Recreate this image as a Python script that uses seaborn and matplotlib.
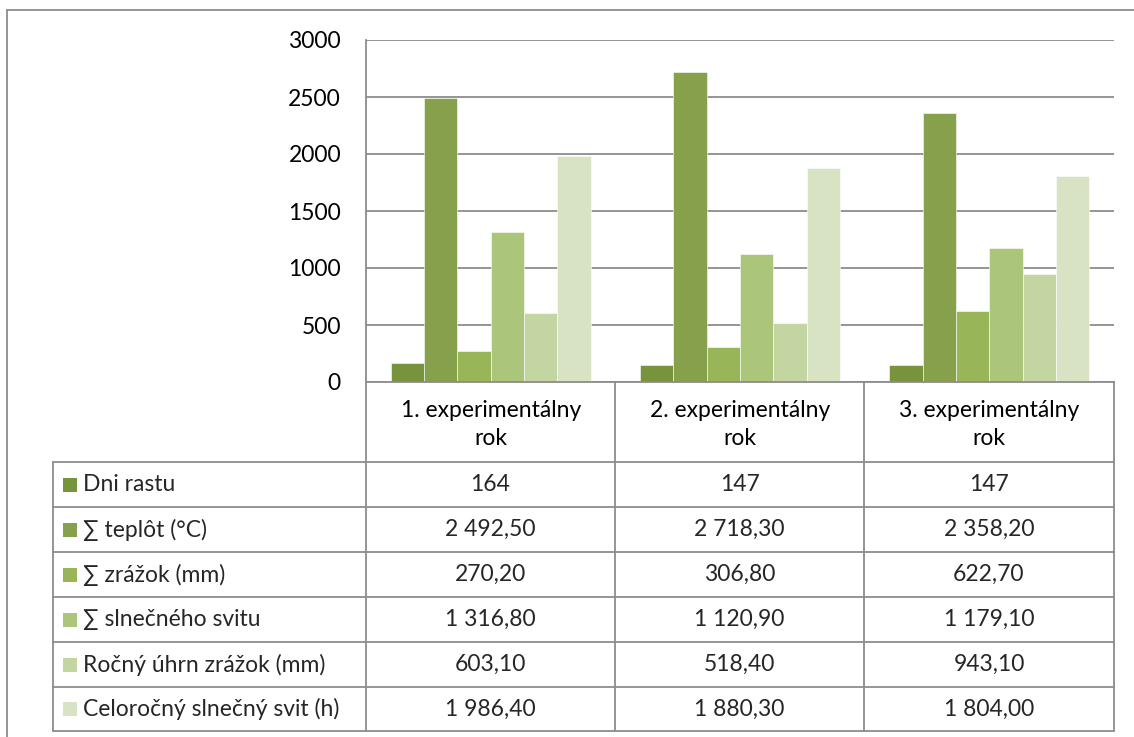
import matplotlib
matplotlib.use("Agg")
import matplotlib.pyplot as plt
from matplotlib.lines import Line2D
from matplotlib.patches import Rectangle
import pandas as pd
import seaborn as sns

# --- data -------------------------------------------------------------
years = ["1. experimentálny\nrok", "2. experimentálny\nrok", "3. experimentálny\nrok"]
series = [
    "Dni rastu",
    "∑ teplôt (°C)",
    "∑ zrážok (mm)",
    "∑ slnečného svitu",
    "Ročný úhrn zrážok (mm)",
    "Celoročný slnečný svit (h)",
]
dni_rastu = [164, 147, 147]
suma_teplot = [2492.50, 2718.30, 2358.20]
suma_zrazok = [270.20, 306.80, 622.70]
suma_svitu = [1316.80, 1120.90, 1179.10]
rocny_uhrn_zrazok = [603.10, 518.40, 943.10]
celorocny_svit = [1986.40, 1880.30, 1804.00]
y_ticks = [0, 500, 1000, 1500, 2000, 2500, 3000]

values = [dni_rastu, suma_teplot, suma_zrazok, suma_svitu, rocny_uhrn_zrazok, celorocny_svit]
colors = ["#77933C", "#86A04C", "#98B557", "#ABC57A", "#C3D5A1", "#D7E3C2"]

df = pd.DataFrame(
    [(y, s, v[i]) for s, v in zip(series, values) for i, y in enumerate(years)],
    columns=["rok", "ukazovateľ", "hodnota"],
)

# --- figure ------------------------------------------------------------
W, H = 1134, 737
FS = 16.5
sns.set_theme(style="white")
plt.rcParams["font.family"] = ["Lato", "DejaVu Sans"]
fig = plt.figure(figsize=(W / 100, H / 100), dpi=100)

def fx(px):
    return px / W

def fy(py):
    return 1 - py / H

GRID = "#8C8C8C"
left, right, top, base = 366, 1114, 40, 382
ax = fig.add_axes([fx(left), fy(base), fx(right - left), (base - top) / H])

sns.barplot(
    data=df, x="rok", y="hodnota", hue="ukazovateľ", order=years,
    hue_order=series, palette=colors, width=0.803, dodge=True,
    saturation=1, edgecolor="white", linewidth=0.4, legend=False, ax=ax,
)
ax.set_xlim(-0.5, len(years) - 0.5)
ax.set_ylim(0, 3000)
ax.set_yticks(y_ticks)
ax.set_yticklabels([str(t) for t in y_ticks], fontsize=FS)
ax.tick_params(axis="y", length=0, pad=18, colors="black")
ax.yaxis.grid(True, color=GRID, linewidth=1.3)
ax.set_axisbelow(True)
ax.set_xticks(range(len(years)))
ax.set_xticklabels(years, fontsize=FS, linespacing=1.38)
ax.tick_params(axis="x", length=0, pad=13, colors="black")
ax.set_xlabel("")
ax.set_ylabel("")
for side in ["top", "right"]:
    ax.spines[side].set_visible(False)
for side in ["left", "bottom"]:
    ax.spines[side].set_color(GRID)
    ax.spines[side].set_linewidth(1.3)

# --- data table below the plot -----------------------------------------
def hline(x0, x1, y):
    fig.add_artist(Line2D([fx(x0), fx(x1)], [fy(y), fy(y)], color=GRID, lw=1.3))

def vline(x, y0, y1):
    fig.add_artist(Line2D([fx(x), fx(x)], [fy(y0), fy(y1)], color=GRID, lw=1.3))

col_edges = [left, 615, 864, right]
row_edges = [462, 507, 552, 597, 642, 687, 731]
tab_left = 53

for x in col_edges:
    vline(x, base, row_edges[-1])
vline(tab_left, row_edges[0], row_edges[-1])
for y in row_edges:
    hline(tab_left, right, y)

def fmt(v, decimals):
    s = f"{v:,.{decimals}f}"
    return s.replace(",", " ").replace(".", ",")

for r, (name, vals, c) in enumerate(zip(series, values, colors)):
    yc = (row_edges[r] + row_edges[r + 1]) / 2
    fig.add_artist(Rectangle((fx(63), fy(yc + 7)), fx(14), 14 / H,
                             facecolor=c, edgecolor="none"))
    fig.text(fx(83), fy(yc), name, fontsize=FS, va="center", ha="left")
    dec = 0 if r == 0 else 2
    for i, v in enumerate(vals):
        xc = (col_edges[i] + col_edges[i + 1]) / 2
        fig.text(fx(xc), fy(yc), fmt(v, dec), fontsize=FS, va="center", ha="center")

# outer chart frame
fig.add_artist(Line2D([fx(7), fx(7)], [fy(10), 0], color=GRID, lw=1.3))
fig.add_artist(Line2D([fx(7), 1], [fy(10), fy(10)], color=GRID, lw=1.3))

fig.savefig("out.png", dpi=100)
